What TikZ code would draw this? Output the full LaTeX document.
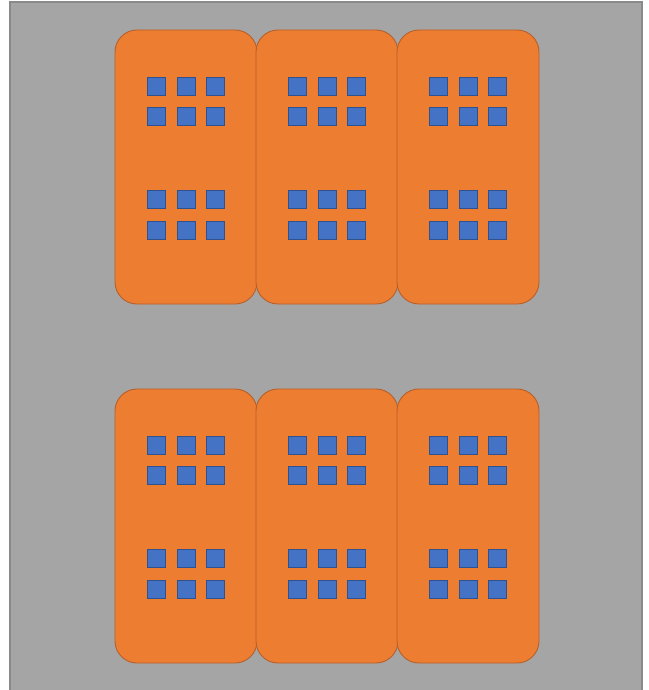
\documentclass[tikz,border=0pt]{standalone}
\begin{document}
\begin{tikzpicture}[x=1pt,y=-1pt,
  bg/.style={fill=bggray,draw=bgborder,line width=1.2pt},
  rack/.style={fill=rackorange,draw=rackborder,line width=0.9pt,rounded corners=22pt},
  chip/.style={fill=chipblue,draw=chipborder,line width=0.8pt}]
\definecolor{bggray}{HTML}{A5A5A5}
\definecolor{bgborder}{HTML}{8A8A8A}
\definecolor{rackorange}{HTML}{ED7D31}
\definecolor{rackborder}{HTML}{B5602A}
\definecolor{chipblue}{HTML}{4472C4}
\definecolor{chipborder}{HTML}{2F528F}
\useasboundingbox (0,0) rectangle (648,690);
\clip (0,0) rectangle (648,690);
\fill[white] (0,0) rectangle (648,690);
\draw[bg] (10,2) rectangle (642,700);
\foreach \r/\ty in {0/30,1/389}{
  \foreach \c/\cx in {0/186,1/327,2/468}{
    \draw[rack] (\cx-71,\ty) rectangle (\cx+71,\ty+274);
    \foreach \dy in {56.5,86,169.5,200}{
      \foreach \dx in {-29.5,0,29.5}{
        \draw[chip] (\cx+\dx-9,\ty+\dy-9) rectangle (\cx+\dx+9,\ty+\dy+9);
      }
    }
  }
}
\end{tikzpicture}
\end{document}
